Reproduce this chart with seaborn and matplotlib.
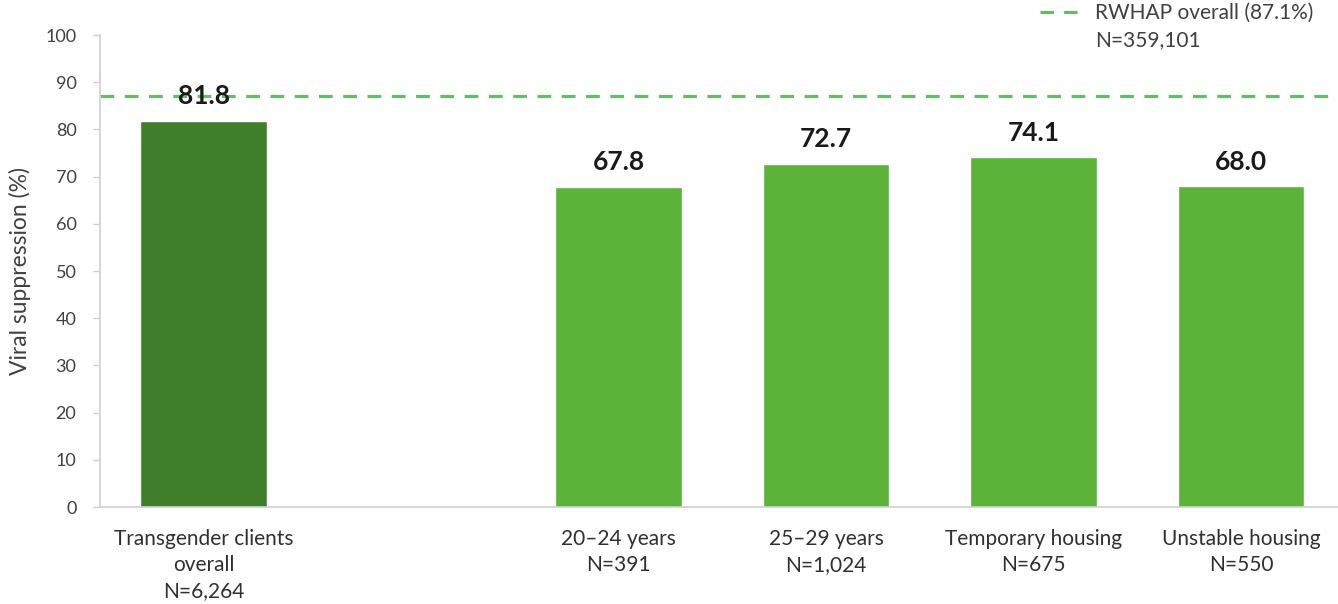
import numpy as np
import pandas as pd
import matplotlib
matplotlib.use("Agg")
import matplotlib.pyplot as plt
from matplotlib.lines import Line2D
import seaborn as sns

# ---- data ----
overall_label = "Transgender clients\noverall\nN=6,264"
overall_value = 81.8
group_labels = ["20–24 years\nN=391", "25–29 years\nN=1,024",
                "Temporary housing\nN=675", "Unstable housing\nN=550"]
group_values = [67.8, 72.7, 74.1, 68.0]
reference_value = 87.1
reference_label = ["RWHAP overall (87.1%)", "N=359,101"]
y_ticks = [0, 10, 20, 30, 40, 50, 60, 70, 80, 90, 100]

dark_green = "#3f7f2b"
light_green = "#5bb33a"
dash_green = "#6ab86a"

spacer = " "
labels = [overall_label, spacer] + group_labels
values = [overall_value, np.nan] + group_values
df = pd.DataFrame({"label": labels, "value": values})
palette = {lab: (dark_green if lab == overall_label else light_green) for lab in labels}

sns.set_theme(style="white")
plt.rcParams["font.family"] = ["Lato", "DejaVu Sans"]

fig = plt.figure(figsize=(13.38, 6.04), dpi=100)
ax = fig.add_axes([100 / 1338, 1 - 507 / 604, 1 - 100 / 1338 + 0.005, (507 - 35) / 604])

sns.barplot(data=df.dropna(), x="label", y="value", hue="label", order=labels,
            palette=palette, width=0.61, saturation=1, legend=False, ax=ax,
            err_kws={"linewidth": 0})

ax.set_xlim(-0.5, 5.5)
ax.set_ylim(0, 100)
ax.set_yticks(y_ticks)
ax.set_ylabel("Viral suppression (%)", fontsize=16.5, color="#404040", labelpad=10)
ax.set_xlabel("")

# value labels
for p in ax.patches:
    h = p.get_height()
    if np.isnan(h) or h == 0:
        continue
    ax.annotate(f"{h:.1f}", (p.get_x() + p.get_width() / 2, h),
                xytext=(0, 9), textcoords="offset points",
                ha="center", va="bottom", fontsize=19, fontweight="bold", color="#1a1a1a")

ax.axhline(reference_value, color=dash_green, linewidth=2.3, dashes=(4.3, 3.3), zorder=0.5)

for s in ["top", "right"]:
    ax.spines[s].set_visible(False)
for s in ["left", "bottom"]:
    ax.spines[s].set_color("#d0d0d0")
    ax.spines[s].set_linewidth(1.2)

ax.tick_params(axis="y", which="both", left=True, length=5, width=1, color="#d0d0d0",
               labelsize=13, labelcolor="#404040", pad=12)
ax.tick_params(axis="x", bottom=False, labelsize=15, labelcolor="#303030", pad=10)
for t in ax.get_xticklabels():
    t.set_linespacing(1.38)

handle = Line2D([0], [0], color=dash_green, linewidth=2.3, dashes=(4.2, 3.2))
blank = Line2D([0], [0], color="none")
fig.legend([handle, blank], reference_label, loc="upper left",
           bbox_to_anchor=(1040 / 1338, 1 - 3 / 604), frameon=False, fontsize=15,
           handlelength=1.95, handletextpad=0.7, labelspacing=0.35,
           borderpad=0, borderaxespad=0, labelcolor="#404040")

fig.savefig("out.png", dpi=100)
